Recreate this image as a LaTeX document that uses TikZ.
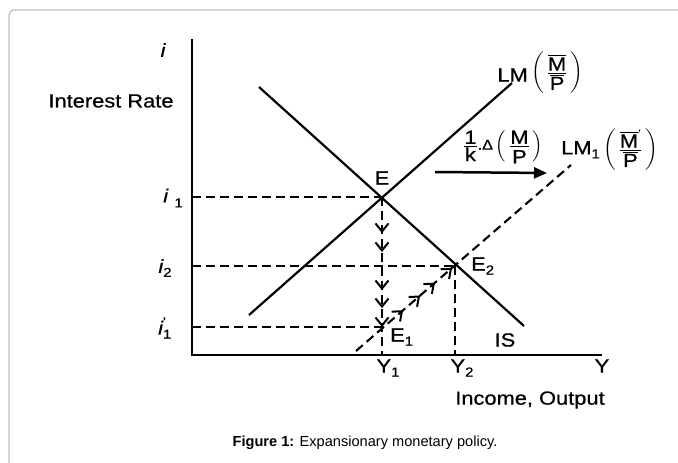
\documentclass[tikz,border=0pt]{standalone}
\usepackage{amsmath}
\usepackage{fontspec}
\setmainfont{Liberation Sans}
\newfontfamily\scanfont[FakeStretch=1.15,FakeBold=0.6]{Liberation Sans}
\usetikzlibrary{arrows.meta,decorations.markings}

\newcommand{\mpfrac}[2]{\ensuremath{\left(\,\frac{\hbox{#1}}{\hbox{\rule{0pt}{16pt}#2}}\,\right)}}
\newcommand{\mbarfrac}[1]{\ensuremath{\left(\,\frac{\overline{\hbox{M}}#1}{\overline{\hbox{P}}}\,\right)}}
\newcommand{\subsc}[1]{\raisebox{-4pt}{\upshape\fontsize{13}{15}\selectfont #1}}

\begin{document}
\begin{tikzpicture}[x=1pt,y=-1pt,>=Stealth,
  lbl/.style={inner sep=1pt,font=\scanfont\fontsize{19}{22}\selectfont},
  guide/.style={dashed,dash pattern=on 9pt off 5pt,line width=2.1pt},
  curve/.style={line width=2.2pt},
  chev/.tip={Straight Barb[length=8pt,width=13pt,line width=2pt]}]
  \useasboundingbox (0,0) rectangle (678,463);
  \draw[gray!50,line width=1.3pt,rounded corners=5pt] (9,463)--(9,10)--(678,10);

  % points of the diagram
  \coordinate (O) at (192,355);
  \coordinate (E) at (382,197);
  \coordinate (E1) at (382,327);
  \coordinate (E2) at (455,266);

  % axes
  \draw[line width=2.6pt] (192,39)--(O)--(602,355);
  \node[lbl,font=\scanfont\itshape\fontsize{19}{22}\selectfont] (ilab) at (163,50) {i};
  \node[lbl] (rate) at (111,101) {Interest Rate};
  \node[lbl] (ylab) at (602,366) {Y};
  \node[lbl] (income) at (530,400) {Income, Output};

  % IS and LM curves
  \draw[curve] (259,87)--(524,326);
  \draw[curve] (249,315)--(512,83);
  \draw[guide,decoration={markings,
      mark=at position 0.219 with {\arrow{chev}},
      mark=at position 0.298 with {\arrow{chev}},
      mark=at position 0.367 with {\arrow{chev}},
      mark=at position 0.447 with {\arrow{chev}}},postaction={decorate}]
    (356,351)--(571,165);
  \node[lbl] (IS) at (505,340) {IS};
  \node[lbl,anchor=east] (LM) at (529,75) {LM};
  \node[lbl,anchor=west] (LMfrac) at (530,73) {\mbarfrac{}};
  \node[lbl,anchor=west] (LM1) at (560,150) {LM\subsc{1}\,\mbarfrac{'}};

  % shift of LM
  \node[lbl,anchor=west] (shift) at (462,147) {\ensuremath{\frac{\hbox{1}}{\hbox{k}}}\raisebox{1pt}{\fontsize{14}{16}\selectfont .Δ}\hspace{3pt}\mpfrac{M}{P}};
  \draw[line width=2.5pt,-{Triangle[length=13pt,width=11pt]}] (435,172)--(547,173);

  % guide lines
  \draw[guide] (192,197)--(E);
  \draw[guide] (192,266)--(E2);
  \draw[guide] (192,327)--(E1);
  \draw[guide] (E2)--(455,355);
  \draw[guide,decoration={markings,
      mark=at position 0.228 with {\arrow{chev}},
      mark=at position 0.348 with {\arrow{chev}},
      mark=at position 0.589 with {\arrow{chev}},
      mark=at position 0.703 with {\arrow{chev}},
      mark=at position 0.823 with {\arrow{chev}}},postaction={decorate}]
    (E)--(382,355);

  % point labels
  \node[lbl] (Elab) at (382,178) {E};
  \node[lbl,anchor=west] (E2lab) at (470,266) {E\subsc{2}};
  \node[lbl,anchor=west] (E1lab) at (389,337) {E\subsc{1}};
  \node[lbl] (Y1) at (388,368) {Y\subsc{1}};
  \node[lbl] (Y2) at (462,368) {Y\subsc{2}};
  \node[lbl] (i1) at (173,198) {\itshape i\,\,\raisebox{-1pt}{\subsc{1}}};
  \node[lbl] (i2) at (165,268) {\itshape i\subsc{2}};
  \node[lbl] (i1p) at (165,328) {\ensuremath{\hbox{\itshape i}_{\hbox{\upshape\fontsize{13}{15}\selectfont 1}}^{\hbox{\upshape\fontsize{13}{15}\selectfont '}}}};

  % caption
  \node[font=\fontsize{14.6}{17}\selectfont] (cap) at (365,443) {\textbf{Figure 1:} Expansionary monetary policy.};
\end{tikzpicture}
\end{document}
